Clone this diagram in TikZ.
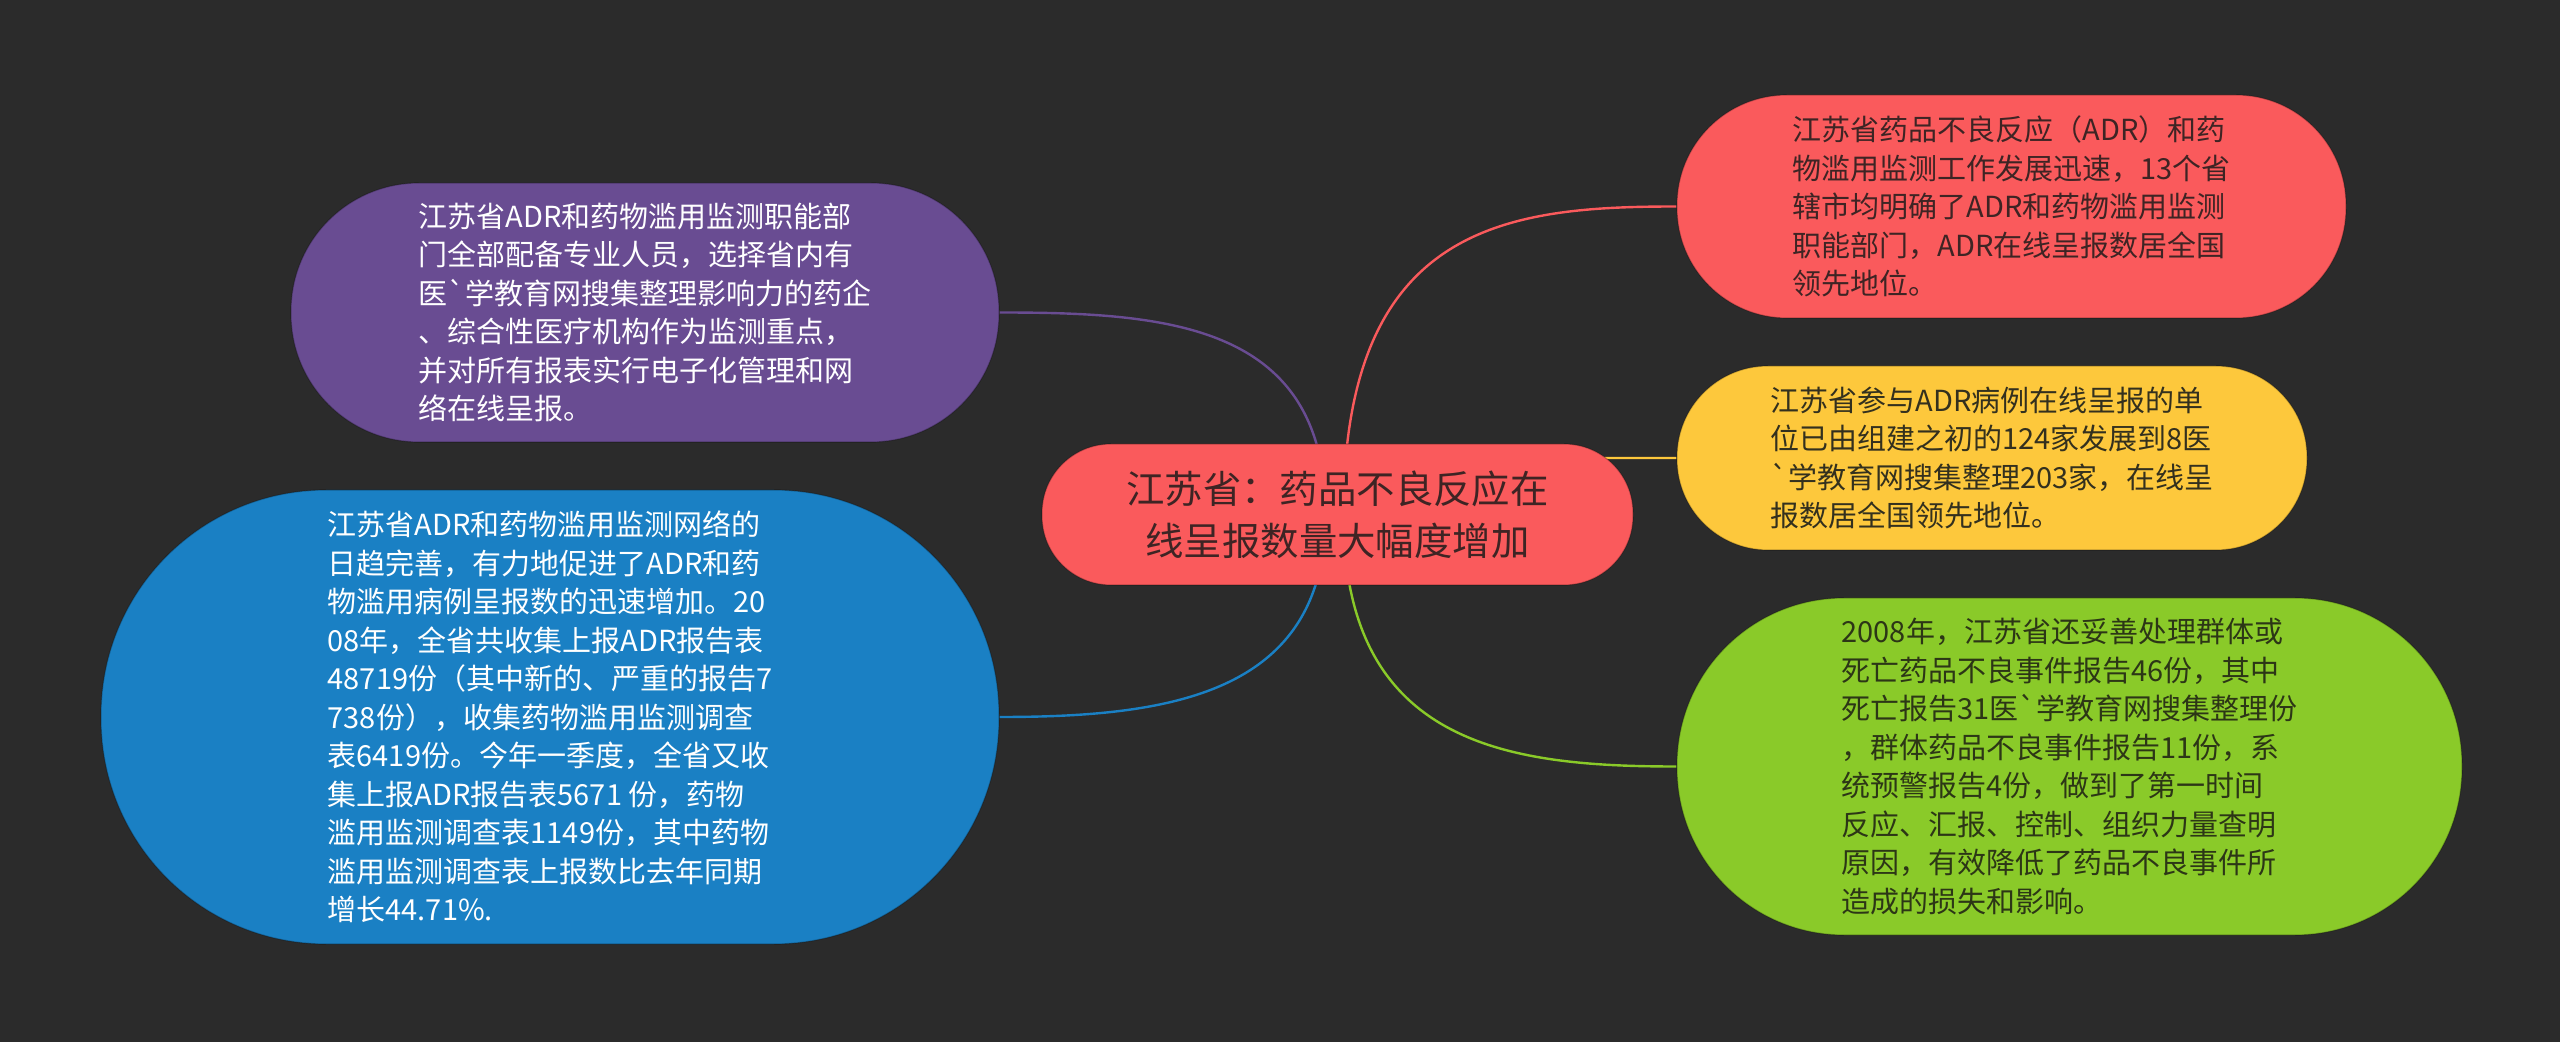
\documentclass[tikz,border=0pt]{standalone}
\usepackage{fontspec}
\newfontfamily\cjk{Noto Sans CJK SC}
\newcommand\gv{\char96\relax}
\definecolor{bgc}{HTML}{2B2B2B}
\definecolor{cpur}{HTML}{694C92}
\definecolor{cblu}{HTML}{1A80C4}
\definecolor{cred}{HTML}{FA5A5C}
\definecolor{cyel}{HTML}{FDC83C}
\definecolor{cgrn}{HTML}{8ACA29}
\definecolor{tred}{HTML}{3E2424}
\definecolor{tyel}{HTML}{33301E}
\definecolor{tgrn}{HTML}{2C3616}
\pgfdeclarelayer{bglayer}
\pgfdeclarelayer{linelayer}
\pgfsetlayers{bglayer,linelayer,main}
\tikzset{
  pill/.style={rectangle, inner sep=0pt, align=left, draw=black, draw opacity=0.25, line width=0.6pt},
  childfont/.style={font=\cjk\fontsize{14.5}{19.25}\selectfont},
  conn/.style={line width=1.2pt}
}
\begin{document}
\begin{tikzpicture}[x=0.5pt,y=-0.5pt]
\begin{pgfonlayer}{bglayer}
\fill[bgc] (0,0) rectangle (2560,1042);
\end{pgfonlayer}
\useasboundingbox (0,0) rectangle (2560,1042);

\node[pill, fill=cred, text=tred, minimum width=591*0.5pt, minimum height=141*0.5pt,
  rounded corners=69*0.5pt, align=center, font=\cjk\fontsize{19.2}{26}\selectfont]
  (ctr) at (1337.5,514.5) {江苏省：药品不良反应在\\线呈报数量大幅度增加};

\node[pill, childfont, fill=cpur, text=white, minimum width=708*0.5pt, minimum height=259*0.5pt,
  rounded corners=128*0.5pt] (pur) at (645,312.5)
  {江苏省ADR和药物滥用监测职能部\\门全部配备专业人员，选择省内有\\医\gv 学教育网搜集整理影响力的药企\\、综合性医疗机构作为监测重点，\\并对所有报表实行电子化管理和网\\络在线呈报。};

\node[pill, childfont, fill=cblu, text=white, minimum width=898*0.5pt, minimum height=454*0.5pt,
  rounded corners=225*0.5pt] (blu) at (550,717)
  {江苏省ADR和药物滥用监测网络的\\日趋完善，有力地促进了ADR和药\\物滥用病例呈报数的迅速增加。20\\08年，全省共收集上报ADR报告表\\48719份（其中新的、严重的报告7\\738份），收集药物滥用监测调查\\表6419份。今年一季度，全省又收\\集上报ADR报告表5671 份，药物\\滥用监测调查表1149份，其中药物\\滥用监测调查表上报数比去年同期\\增长44.71\%.};

\node[pill, childfont, fill=cred, text=tred, minimum width=669*0.5pt, minimum height=223*0.5pt,
  rounded corners=110*0.5pt] (red) at (2011.5,206.5)
  {江苏省药品不良反应（ADR）和药\\物滥用监测工作发展迅速，13个省\\辖市均明确了ADR和药物滥用监测\\职能部门，ADR在线呈报数居全国\\领先地位。};

\node[pill, childfont, fill=cyel, text=tyel, minimum width=630*0.5pt, minimum height=184*0.5pt,
  rounded corners=91*0.5pt] (yel) at (1992,458)
  {江苏省参与ADR病例在线呈报的单\\位已由组建之初的124家发展到8医\\\gv 学教育网搜集整理203家，在线呈\\报数居全国领先地位。};

\node[pill, childfont, fill=cgrn, text=tgrn, minimum width=785*0.5pt, minimum height=337*0.5pt,
  rounded corners=167*0.5pt] (grn) at (2069.5,766.5)
  {2008年，江苏省还妥善处理群体或\\死亡药品不良事件报告46份，其中\\死亡报告31医\gv 学教育网搜集整理份\\，群体药品不良事件报告11份，系\\统预警报告4份，做到了第一时间\\反应、汇报、控制、组织力量查明\\原因，有效降低了药品不良事件所\\造成的损失和影响。};

\begin{pgfonlayer}{linelayer}
\draw[conn, cpur] ([xshift=-6pt]ctr.center) .. controls +(0,-190) and +(170,0) .. (pur.east);
\draw[conn, cred] ([xshift=3pt]ctr.center) .. controls +(0,-290) and +(-170,0) .. (red.west);
\draw[conn, cyel] ([xshift=3pt]ctr.center) .. controls +(0,-58) and +(-200,0) .. (yel.west);
\draw[conn, cgrn] ([xshift=3pt]ctr.center) .. controls +(0,230) and +(-170,0) .. (grn.west);
\draw[conn, cblu] ([xshift=-6pt]ctr.center) .. controls +(0,180) and +(170,0) .. (blu.east);
\end{pgfonlayer}
\end{tikzpicture}
\end{document}
